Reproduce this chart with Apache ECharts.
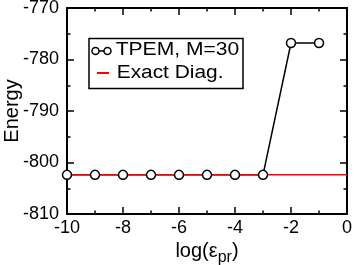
<!DOCTYPE html>
<html><head><meta charset="utf-8">
<script src="https://cdn.jsdelivr.net/npm/echarts@6/dist/echarts.min.js"></script>
<style>html,body{margin:0;padding:0;background:#fff}#c{width:354px;height:265px}</style>
</head><body><div id="c"></div>
<script>
var seriesNames = ['TPEM, M=30', 'Exact Diag.'];
var logEps = [-10, -9, -8, -7, -6, -5, -4, -3, -2, -1];
var tpemEnergy = [-802.4, -802.4, -802.4, -802.4, -802.4, -802.4, -802.4, -802.4, -776.8, -776.8];
var exactX = [-10, 0];
var exactEnergy = [-802.4, -802.4];
var xRange = [-10, 0];
var yRange = [-810, -770];

var FONT = '"Liberation Sans", Arial, sans-serif';
var tpemData = logEps.map(function (x, i) { return [x, tpemEnergy[i]]; });
var exactData = exactX.map(function (x, i) { return [x, exactEnergy[i]]; });

function axisCommon(showLabel) {
  return {
    axisLine: { onZero: false, lineStyle: { color: '#000', width: 2 } },
    axisTick: { inside: true, length: 7, lineStyle: { color: '#000', width: 1.5 } },
    minorTick: { show: true, splitNumber: 2, length: 3.5, lineStyle: { color: '#000', width: 1.5 } },
    splitLine: { show: false },
    axisLabel: { show: showLabel, color: '#000', fontSize: 18, fontFamily: FONT },
  };
}
var xMain = Object.assign(axisCommon(true), {
  type: 'value', min: xRange[0], max: xRange[1], interval: 2, position: 'bottom',
  name: '{n|log(ε}{s|pr}{n|)}', nameLocation: 'middle', nameGap: 16,
  nameTextStyle: { color: '#000', fontFamily: FONT, rich: {
    n: { fontSize: 20, fontFamily: FONT, color: '#000' },
    s: { fontSize: 16, fontFamily: FONT, color: '#000', padding: [11, 0, 0, 0] } } }
});
xMain.axisLabel.margin = 5;
var xTop = Object.assign(axisCommon(false), { type: 'value', min: xRange[0], max: xRange[1], interval: 2, position: 'top' });
var yMain = Object.assign(axisCommon(true), {
  type: 'value', min: yRange[0], max: yRange[1], interval: 10, position: 'left',
  name: 'Energy', nameLocation: 'middle', nameGap: 45, nameRotate: 90, nameMoveOverlap: false,
  nameTextStyle: { color: '#000', fontSize: 20, fontFamily: FONT }
});
yMain.axisLabel.margin = 8;
yMain.axisLabel.padding = [5, 0, 0, 0];
var yRight = Object.assign(axisCommon(false), { type: 'value', min: yRange[0], max: yRange[1], interval: 10, position: 'right' });

var option = {
  animation: false,
  backgroundColor: '#fff',
  grid: { left: 67, right: 7, top: 8, bottom: 51, containLabel: false, outerBoundsMode: 'none' },
  xAxis: [xMain, xTop],
  yAxis: [yMain, yRight],
  series: [
    { name: seriesNames[0] + ' line', type: 'line', data: tpemData, showSymbol: false, z: 1,
      lineStyle: { color: '#000', width: 1.5 }, itemStyle: { color: '#000' } },
    { name: seriesNames[1], type: 'line', data: exactData, showSymbol: false, z: 2,
      lineStyle: { color: '#ff0000', width: 1.5 } },
    { name: seriesNames[0], type: 'scatter', data: tpemData, z: 3, symbol: 'circle', symbolSize: 9,
      itemStyle: { color: '#fff', opacity: 1, borderColor: '#000', borderWidth: 1.5 } }
  ],
  graphic: [
    { type: 'rect', shape: { x: 89, y: 38.5, width: 154, height: 50 }, z: 10,
      style: { fill: '#fff', stroke: '#000', lineWidth: 1.5 } },
    { type: 'line', shape: { x1: 99, y1: 51, x2: 104, y2: 51 }, z: 11, style: { stroke: '#000', lineWidth: 1.5 } },
    { type: 'circle', shape: { cx: 95.5, cy: 51, r: 3.5 }, z: 11, style: { fill: '#fff', stroke: '#000', lineWidth: 1.5 } },
    { type: 'circle', shape: { cx: 107.5, cy: 51, r: 3.5 }, z: 11, style: { fill: '#fff', stroke: '#000', lineWidth: 1.5 } },
    { type: 'text', x: 115.7, y: 50, scaleX: 1.17, z: 11,
      style: { text: seriesNames[0], fill: '#000', font: '18px ' + FONT, verticalAlign: 'middle', align: 'left' } },
    { type: 'line', shape: { x1: 97, y1: 73, x2: 109, y2: 73 }, z: 11, style: { stroke: '#ff0000', lineWidth: 2 } },
    { type: 'text', x: 116.7, y: 73, scaleX: 1.16, z: 11,
      style: { text: seriesNames[1], fill: '#000', font: '18px ' + FONT, verticalAlign: 'middle', align: 'left' } }
  ]
};
echarts.init(document.getElementById('c'), null, { renderer: 'canvas' }).setOption(option);
</script></body></html>
